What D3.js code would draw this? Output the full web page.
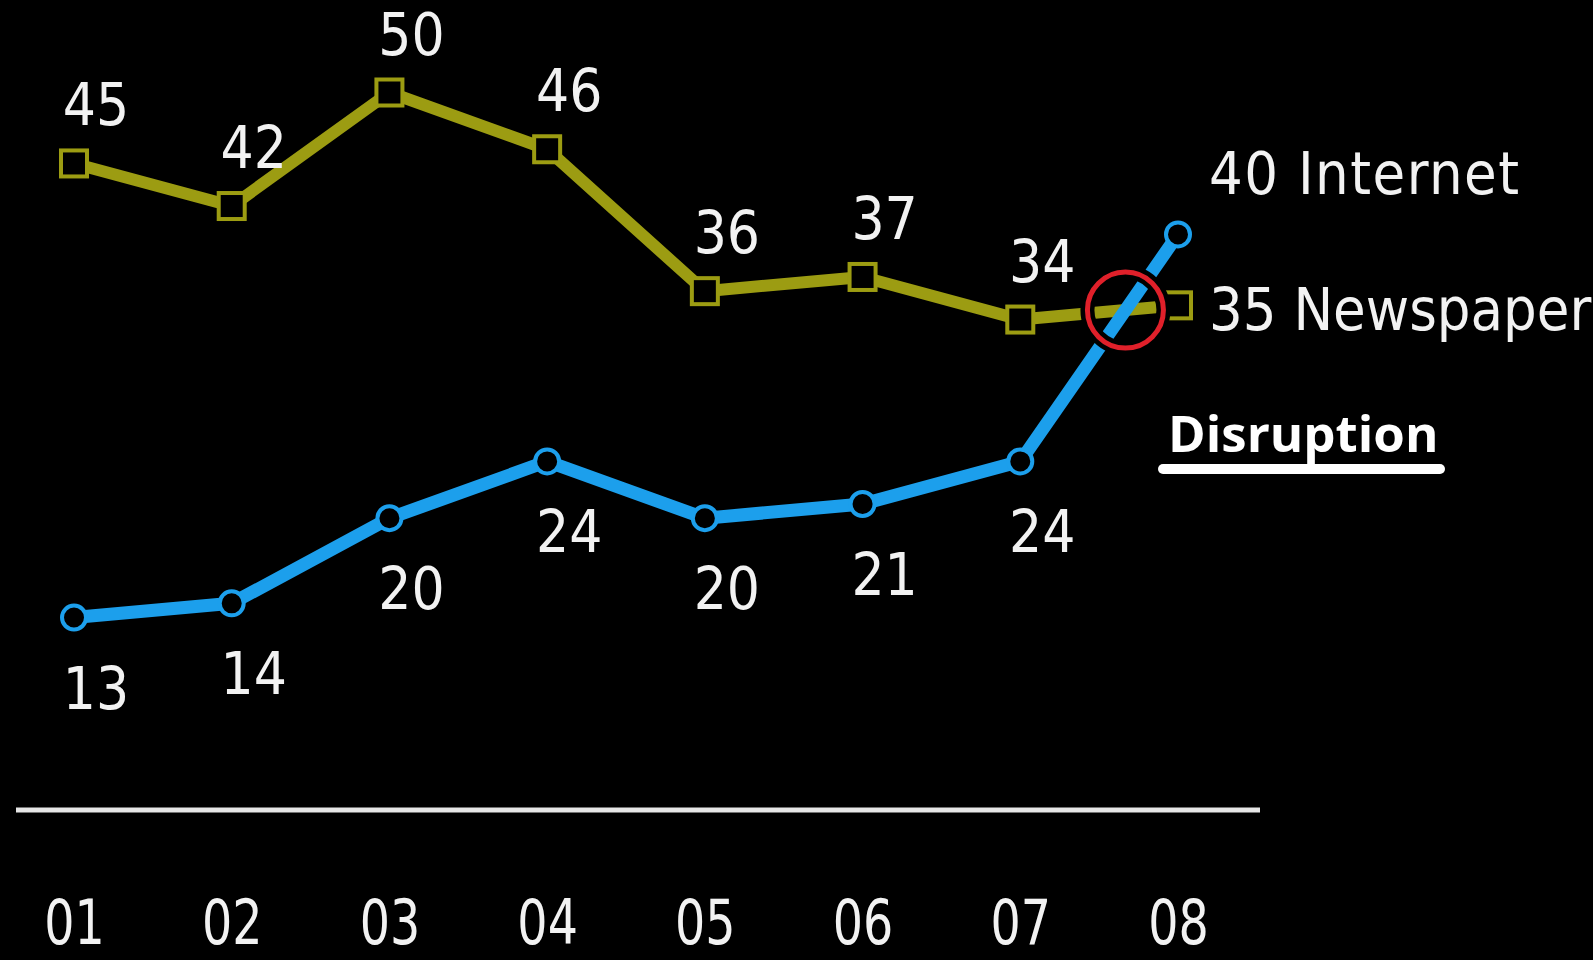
<!DOCTYPE html>
<html>
<head>
<meta charset="utf-8">
<script src="https://cdn.jsdelivr.net/npm/d3@7"></script>
<style>
  html, body { margin: 0; padding: 0; background: #000; }
  svg { display: block; }
</style>
</head>
<body>
<svg id="chart" width="1593" height="960"></svg>
<script>
// Years on the x axis
const years = ["01", "02", "03", "04", "05", "06", "07", "08"];
// Share of people naming each source (%)
const newspaper = [45, 42, 50, 46, 36, 37, 34, 35];
const internet  = [13, 14, 20, 24, 20, 21, 24, 40];
const seriesNames = ["Newspaper", "Internet"];
const calloutText = "Disruption";

const W = 1593, H = 960;
const svg = d3.select("#chart");
svg.append("rect").attr("width", W).attr("height", H).attr("fill", "#000");

const x = d3.scalePoint().domain(years).range([74, 1178]);
const y = d3.scaleLinear().domain([0, 50]).range([802, 92.5]);

const olive = "#9c9c12";
const blue = "#1c9fec";
const textColor = "#f2f2f2";

// Baseline rule and year labels
const axisY = 810;
svg.append("line")
  .attr("x1", 16).attr("x2", 1260)
  .attr("y1", axisY).attr("y2", axisY)
  .attr("stroke", "#e6e6e6").attr("stroke-width", 5);

const xAxis = d3.axisBottom(x).tickSize(0).tickPadding(89);
const gx = svg.append("g").attr("transform", `translate(0,${axisY})`).call(xAxis);
gx.select(".domain").remove();
// narrow, tall digits for the years
gx.selectAll("text")
  .attr("fill", textColor)
  .attr("transform", "scale(0.84,1)")
  .style("font-family", "'DejaVu Sans Condensed', 'DejaVu Sans', sans-serif")
  .style("font-size", "63px");

const line = d3.line().x((d, i) => x(years[i])).y(d => y(d));

// Newspaper series
svg.append("path").datum(newspaper)
  .attr("d", line).attr("fill", "none")
  .attr("stroke", olive).attr("stroke-width", 12).attr("stroke-linejoin", "round");

// Internet series
svg.append("path").datum(internet)
  .attr("d", line).attr("fill", "none")
  .attr("stroke", blue).attr("stroke-width", 13).attr("stroke-linejoin", "round");

svg.append("g").selectAll("rect").data(newspaper).join("rect")
  .attr("x", (d, i) => x(years[i]) - 13)
  .attr("y", d => y(d) - 13)
  .attr("width", 26).attr("height", 26)
  .attr("fill", "#000").attr("stroke", olive).attr("stroke-width", 4);

svg.append("g").selectAll("circle").data(internet).join("circle")
  .attr("cx", (d, i) => x(years[i]))
  .attr("cy", d => y(d))
  .attr("r", 12)
  .attr("fill", "#000").attr("stroke", blue).attr("stroke-width", 4);

// Crossing point of the two lines between the last two years
const n = years.length;
const a0 = newspaper[n - 2], a1 = newspaper[n - 1];
const b0 = internet[n - 2], b1 = internet[n - 1];
const t = (a0 - b0) / ((b1 - b0) - (a1 - a0));
const cx = x(years[n - 2]) + t * (x(years[n - 1]) - x(years[n - 2]));
const cy = y(a0 + t * (a1 - a0));

svg.append("circle").attr("cx", cx).attr("cy", cy).attr("r", 38)
  .attr("fill", "none").attr("stroke", "#000").attr("stroke-width", 14);
svg.append("circle").attr("cx", cx).attr("cy", cy).attr("r", 38)
  .attr("fill", "none").attr("stroke", "#e0202a").attr("stroke-width", 5);

// Value labels
const labelFont = "'DejaVu Sans Condensed', 'DejaVu Sans', sans-serif";
const valueGroup = svg.append("g")
  .attr("fill", textColor)
  .style("font-family", labelFont)
  .style("font-size", "58px")
  .attr("text-anchor", "middle");

valueGroup.selectAll("text.np").data(newspaper.slice(0, n - 1)).join("text")
  .attr("class", "np")
  .attr("x", (d, i) => x(years[i]) + 22)
  .attr("y", d => y(d) - 38)
  .text(d => d);

valueGroup.selectAll("text.in").data(internet.slice(0, n - 1)).join("text")
  .attr("class", "in")
  .attr("x", (d, i) => x(years[i]) + 22)
  .attr("y", d => y(d) + 91)
  .text(d => d);

// End-of-line labels
const endGroup = svg.append("g")
  .attr("fill", textColor)
  .style("font-family", labelFont)
  .style("font-size", "59px");

endGroup.append("text")
  .attr("x", x(years[n - 1]) + 31)
  .attr("y", y(internet[n - 1]) - 40)
  .attr("letter-spacing", "1.5px")
  .text(`${internet[n - 1]} ${seriesNames[1]}`);

endGroup.append("text")
  .attr("x", x(years[n - 1]) + 31)
  .attr("y", y(newspaper[n - 1]) + 25)
  .text(`${newspaper[n - 1]} ${seriesNames[0]}`);

// Callout with underline
svg.append("text")
  .attr("x", 1168).attr("y", 452)
  .attr("fill", "#fff")
  .style("font-family", "'Open Sans', 'Noto Sans', sans-serif")
  .style("font-weight", "700")
  .style("font-size", "51px")
  .text(calloutText);

svg.append("line")
  .attr("x1", 1163).attr("x2", 1440)
  .attr("y1", 469).attr("y2", 469)
  .attr("stroke", "#fff").attr("stroke-width", 10).attr("stroke-linecap", "round");
</script>
</body>
</html>
